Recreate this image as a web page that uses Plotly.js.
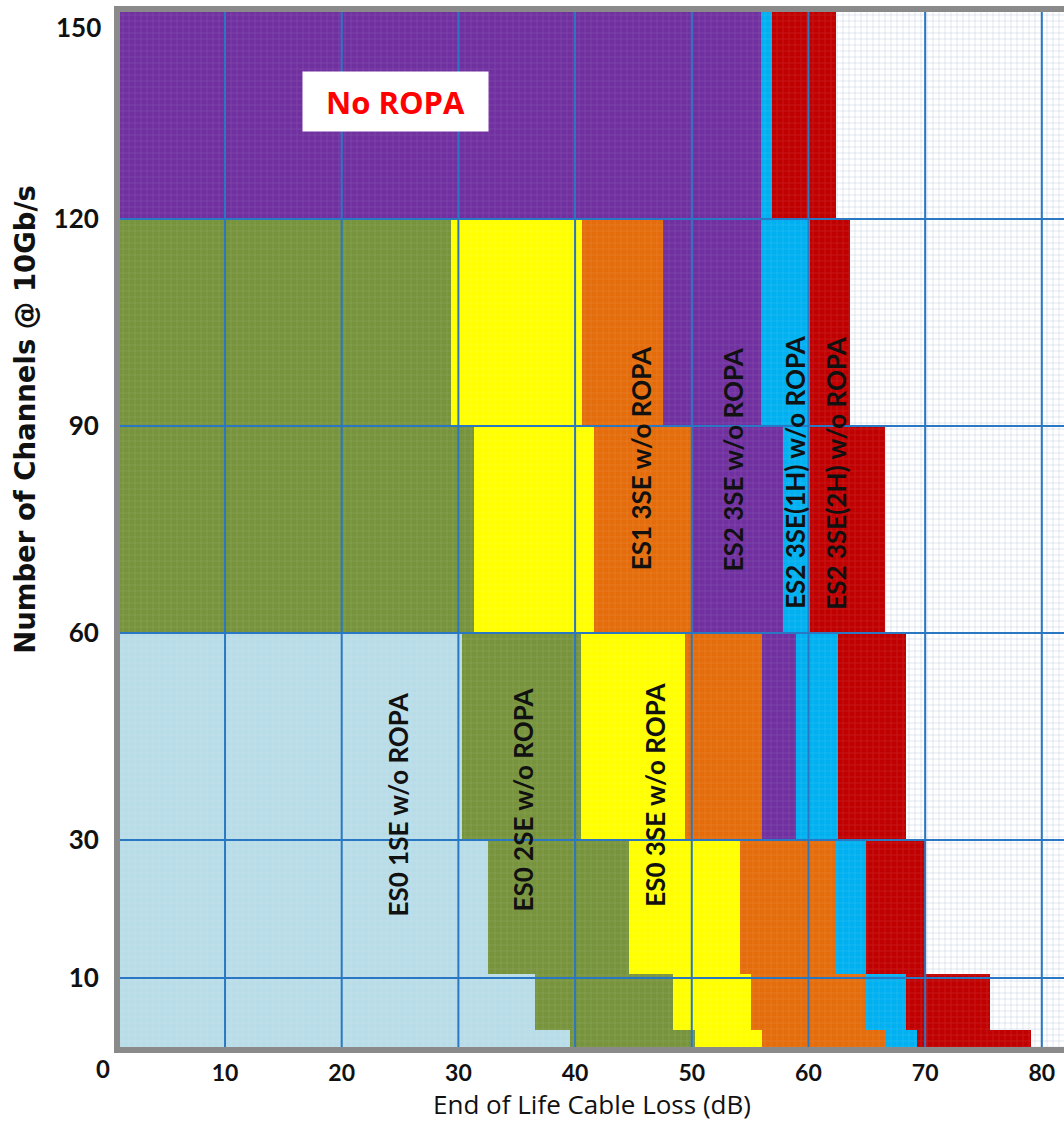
<!DOCTYPE html>
<html>
<head>
<meta charset="utf-8">
<script src="https://cdn.plot.ly/plotly-3.0.1.min.js"></script>
<style>
html,body{margin:0;padding:0;background:#fff;}
#chart{width:1064px;height:1127px;}
</style>
</head>
<body>
<div id="chart"></div>
<script>
// ---- Data ----
// Channel bands (bottom to top), in number of channels
const bandLow  = [0, 2.4, 10.6, 30, 60, 90, 120];
const bandHigh = [2.4, 10.6, 30, 60, 90, 120, 150];

// Right edge (end of life cable loss, dB) of each coloured region per band; null = region absent
const endES0_1SE   = [39.6, 36.6, 32.5, 30.3, null, null, null];   // light blue
const endES0_2SE   = [50.3, 48.4, 44.6, 40.5, 31.3, 29.4, null];   // olive green
const endES0_3SE   = [56.0, 55.1, 54.1, 49.4, 41.6, 40.6, null];   // yellow
const endES1_3SE   = [66.6, 64.9, 62.4, 56.0, 50.0, 47.5, null];   // orange
const endES2_3SE   = [null, null, null, 58.9, 57.8, 55.9, 55.9];   // purple
const endES2_3SE1H = [69.3, 68.4, 64.9, 62.5, 60.1, 60.1, 56.9];   // cyan
const endES2_3SE2H = [79.1, 75.6, 70.0, 68.4, 66.6, 63.6, 62.4];   // red

const seriesNames  = ['ES0 1SE', 'ES0 2SE', 'ES0 3SE', 'ES1 3SE', 'ES2 3SE', 'ES2 3SE(1H)', 'ES2 3SE(2H)'];
const seriesEnds   = [endES0_1SE, endES0_2SE, endES0_3SE, endES1_3SE, endES2_3SE, endES2_3SE1H, endES2_3SE2H];
const seriesColors = ['#b9dde8', '#77933c', '#ffff00', '#e46c0a', '#7030a0', '#00b0f0', '#c00000'];

const xTickVals = [10, 20, 30, 40, 50, 60, 70, 80];
const yTickVals = [10, 30, 60, 90, 120];
const yGridVals = [10, 30, 60, 90, 120];
const yTopLabel = '150';

// In-chart labels
const labelTexts = ['ES0 1SE w/o ROPA', 'ES0 2SE w/o ROPA', 'ES0 3SE w/o ROPA', 'ES1 3SE w/o ROPA',
                    'ES2 3SE w/o ROPA', 'ES2 3SE(1H) w/o ROPA', 'ES2 3SE(2H) w/o ROPA'];
const labelX = [24.8, 35.5, 46.9, 45.6, 53.5, 58.9, 62.4];
const labelY = [35.1, 35.8, 36.5, 85.4, 85.1, 83.3, 83.3];

const xMin = 0;
const xRange = [1.0, 81.9];
const yRange = [0, 150];

// ---- Build traces ----
const traces = [];
const centers = bandLow.map((lo, i) => (lo + bandHigh[i]) / 2);
const widths  = bandLow.map((lo, i) => bandHigh[i] - lo);

// textured white background band behind everything
traces.push({
  type: 'bar', orientation: 'h', y: centers, x: bandLow.map(() => xRange[1] - xMin), base: bandLow.map(() => xMin),
  width: widths,
  marker: {color: '#ffffff', line: {width: 0},
           pattern: {shape: '+', fgcolor: '#c3cede', bgcolor: '#ffffff', size: 6, solidity: 0.16}},
  hoverinfo: 'skip', showlegend: false
});

let prevEnd = bandLow.map(() => xMin);
seriesEnds.forEach((ends, k) => {
  const base = [], len = [];
  ends.forEach((e, i) => {
    if (e === null) { base.push(prevEnd[i]); len.push(0); }
    else { base.push(prevEnd[i]); len.push(e - prevEnd[i]); prevEnd[i] = e; }
  });
  traces.push({
    type: 'bar', orientation: 'h', name: seriesNames[k],
    y: centers, x: len, base: base, width: widths,
    marker: {
      color: seriesColors[k],
      line: {width: 0},
      pattern: {shape: '+', fgcolor: '#ffffff', bgcolor: seriesColors[k], fgopacity: 0.16, size: 6, solidity: 0.16}
    },
    hoverinfo: 'skip', showlegend: false
  });
});

// ---- Grid lines drawn above the bars ----
const gridColor = '#2a78c4';
const shapes = [];
xTickVals.forEach(v => shapes.push({type: 'line', xref: 'x', yref: 'paper', x0: v, x1: v, y0: 0, y1: 1,
  line: {color: gridColor, width: 2}, layer: 'above'}));
yGridVals.forEach(v => shapes.push({type: 'line', xref: 'paper', yref: 'y', x0: 0, x1: 1, y0: v, y1: v,
  line: {color: gridColor, width: 2}, layer: 'above'}));

// ---- Annotations ----
const tickFontY = {family: 'Lato, sans-serif', size: 26, color: '#111', weight: 'bold'};
const annotations = labelTexts.map((t, i) => ({
  x: labelX[i], y: labelY[i], xref: 'x', yref: 'y', text: t, showarrow: false,
  xanchor: 'center', yanchor: 'middle',
  textangle: -90, font: {family: 'Lato, "Open Sans", sans-serif', size: 26, color: '#111', weight: 'bold'}
}));
annotations.push({
  x: 24.6, y: 137.0, xref: 'x', yref: 'y', text: '<b>No ROPA</b>', showarrow: false,
  xanchor: 'center', yanchor: 'middle',
  bgcolor: '#ffffff', width: 175, height: 49, borderpad: 5,
  font: {family: '"Open Sans", Lato, sans-serif', size: 31, color: '#ff0000'}
});
annotations.push({
  x: -0.018, y: -0.0203, xref: 'paper', yref: 'paper', text: '<b>0</b>', showarrow: false,
  xanchor: 'center', yanchor: 'middle',
  font: {family: 'Lato, sans-serif', size: 24, color: '#111'}
});
annotations.push({
  x: -0.0175, y: 0.9855, xref: 'paper', yref: 'paper', text: yTopLabel, showarrow: false,
  xanchor: 'right', yanchor: 'middle', font: tickFontY
});
annotations.push({
  x: -0.1006, y: 0.606, xref: 'paper', yref: 'paper', text: 'Number of Channels @ 10Gb/s',
  xanchor: 'center', yanchor: 'middle',
  showarrow: false, textangle: -90,
  font: {family: '"DejaVu Sans", sans-serif', size: 27.5, color: '#111', weight: 'bold'}
});

const layout = {
  width: 1064, height: 1127,
  margin: {l: 120, r: 0, t: 12, b: 80},
  paper_bgcolor: '#ffffff', plot_bgcolor: '#ffffff',
  barmode: 'overlay', bargap: 0,
  xaxis: {
    range: xRange, tickvals: xTickVals, ticktext: xTickVals.map(String),
    showgrid: false, zeroline: false, ticks: '',
    showline: true, linecolor: '#8a8a8a', linewidth: 6, mirror: true, layer: 'above traces',
    tickfont: {family: 'Lato, sans-serif', size: 23, color: '#111', weight: 'bold'},
    ticklabelstandoff: 0,
    title: {text: 'End of Life Cable Loss (dB)', standoff: 12,
            font: {family: '"Open Sans", Lato, sans-serif', size: 26, color: '#111'}}
  },
  yaxis: {
    range: yRange, tickvals: yTickVals, ticktext: yTickVals.map(String),
    showgrid: false, zeroline: false, ticks: '',
    showline: true, linecolor: '#8a8a8a', linewidth: 6, mirror: true, layer: 'above traces',
    tickfont: tickFontY,
    ticklabelstandoff: 10
  },
  shapes: shapes,
  annotations: annotations
};

Plotly.newPlot('chart', traces, layout, {displayModeBar: false, staticPlot: true});
</script>
</body>
</html>
